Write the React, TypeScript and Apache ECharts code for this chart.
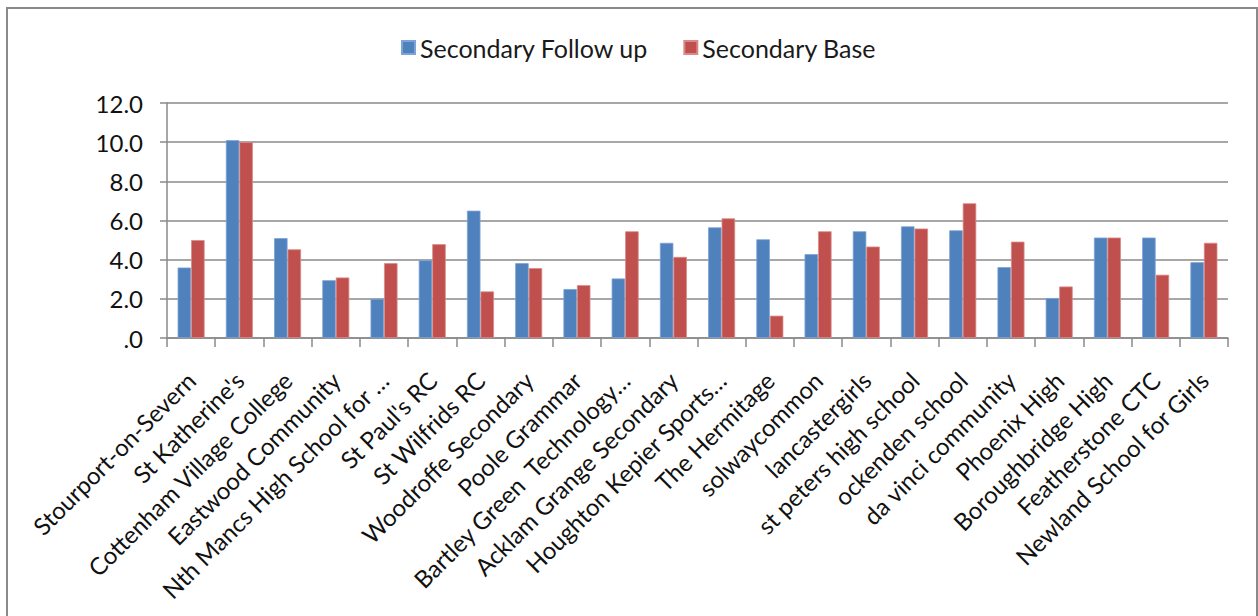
import React, { useEffect, useRef } from "react";
import * as echarts from "echarts";

const categories = [
  "Stourport-on-Severn",
  "St Katherine's",
  "Cottenham Village College",
  "Eastwood Community",
  "Nth Mancs High School for …",
  "St Paul's RC",
  "St Wilfrids RC",
  "Woodroffe Secondary",
  "Poole Grammar",
  "Bartley Green  Technology…",
  "Acklam Grange Secondary",
  "Houghton Kepier Sports…",
  "The Hermitage",
  "solwaycommon",
  "lancastergirls",
  "st peters high school",
  "ockenden school",
  "da vinci community",
  "Phoenix High",
  "Boroughbridge High",
  "Featherstone CTC",
  "Newland School for Girls",
];

const followUp = [3.6, 10.1, 5.1, 2.95, 2.0, 3.97, 6.5, 3.82, 2.5, 3.04, 4.86, 5.65, 5.04, 4.28, 5.45, 5.7, 5.5, 3.62, 2.04, 5.13, 5.13, 3.87];
const base = [5.0, 10.0, 4.53, 3.09, 3.82, 4.79, 2.38, 3.57, 2.7, 5.45, 4.14, 6.11, 1.14, 5.45, 4.67, 5.59, 6.88, 4.92, 2.63, 5.13, 3.23, 4.86];

const seriesNames = ["Secondary Follow up", "Secondary Base"];
const yTicks = { min: 0, max: 12, interval: 2 };

const FONT = "Lato, 'Noto Sans', sans-serif";

export default function App() {
  const ref = useRef<HTMLDivElement>(null);
  useEffect(() => {
    if (!ref.current) return;
    const chart = echarts.init(ref.current, undefined, { renderer: "svg" });
    chart.setOption({
      animation: false,
      backgroundColor: "#ffffff",
      textStyle: { fontFamily: FONT },
      graphic: [
        {
          type: "rect",
          shape: { x: 7, y: 8, width: 1250, height: 640 },
          style: { fill: "none", stroke: "#8a8a8a", lineWidth: 2 },
          silent: true,
        },
      ],
      legend: {
        left: 396,
        top: 30,
        itemWidth: 13,
        itemHeight: 13,
        itemGap: 35,
        icon: "rect",
        textStyle: { fontSize: 25, color: "#1a1a1a", fontFamily: FONT, padding: [0, 0, 0, 0] },
        data: seriesNames,
      },
      grid: { left: 167, top: 103, width: 1061, height: 235, containLabel: false },
      xAxis: {
        type: "category",
        data: categories,
        axisLine: { lineStyle: { color: "#8a8a8a", width: 1.5 } },
        axisTick: { show: true, length: 9, lineStyle: { color: "#8a8a8a", width: 1.5 } },
        axisLabel: {
          interval: 0,
          rotate: 45,
          margin: 38,
          fontSize: 24,
          color: "#111",
          fontFamily: FONT,
        },
      },
      yAxis: {
        type: "value",
        min: yTicks.min,
        max: yTicks.max,
        interval: yTicks.interval,
        axisLine: { show: true, lineStyle: { color: "#8a8a8a", width: 1.5 } },
        axisTick: { show: true, length: 7, lineStyle: { color: "#8a8a8a", width: 1.5 } },
        splitLine: { lineStyle: { color: "#8a8a8a", width: 1.5 } },
        axisLabel: {
          margin: 24,
          fontSize: 24,
          color: "#111",
          fontFamily: FONT,
          formatter: (v: number) => (v === 0 ? ".0" : v.toFixed(1)),
        },
      },
      series: [
        {
          name: seriesNames[0],
          type: "bar",
          data: followUp,
          barGap: "0%",
          barCategoryGap: "44%",
          itemStyle: { color: "#4F81BD", borderColor: "#7ea3d6", borderWidth: 0.8 },
        },
        {
          name: seriesNames[1],
          type: "bar",
          data: base,
          barGap: "0%",
          barCategoryGap: "44%",
          itemStyle: { color: "#C0504D", borderColor: "#d98a88", borderWidth: 0.8 },
        },
      ],
    });
    return () => chart.dispose();
  }, []);
  return (
    <div
      ref={ref}
      style={{ position: "fixed", left: 0, top: 0, width: 1258, height: 616, background: "#fff" }}
    />
  );
}
